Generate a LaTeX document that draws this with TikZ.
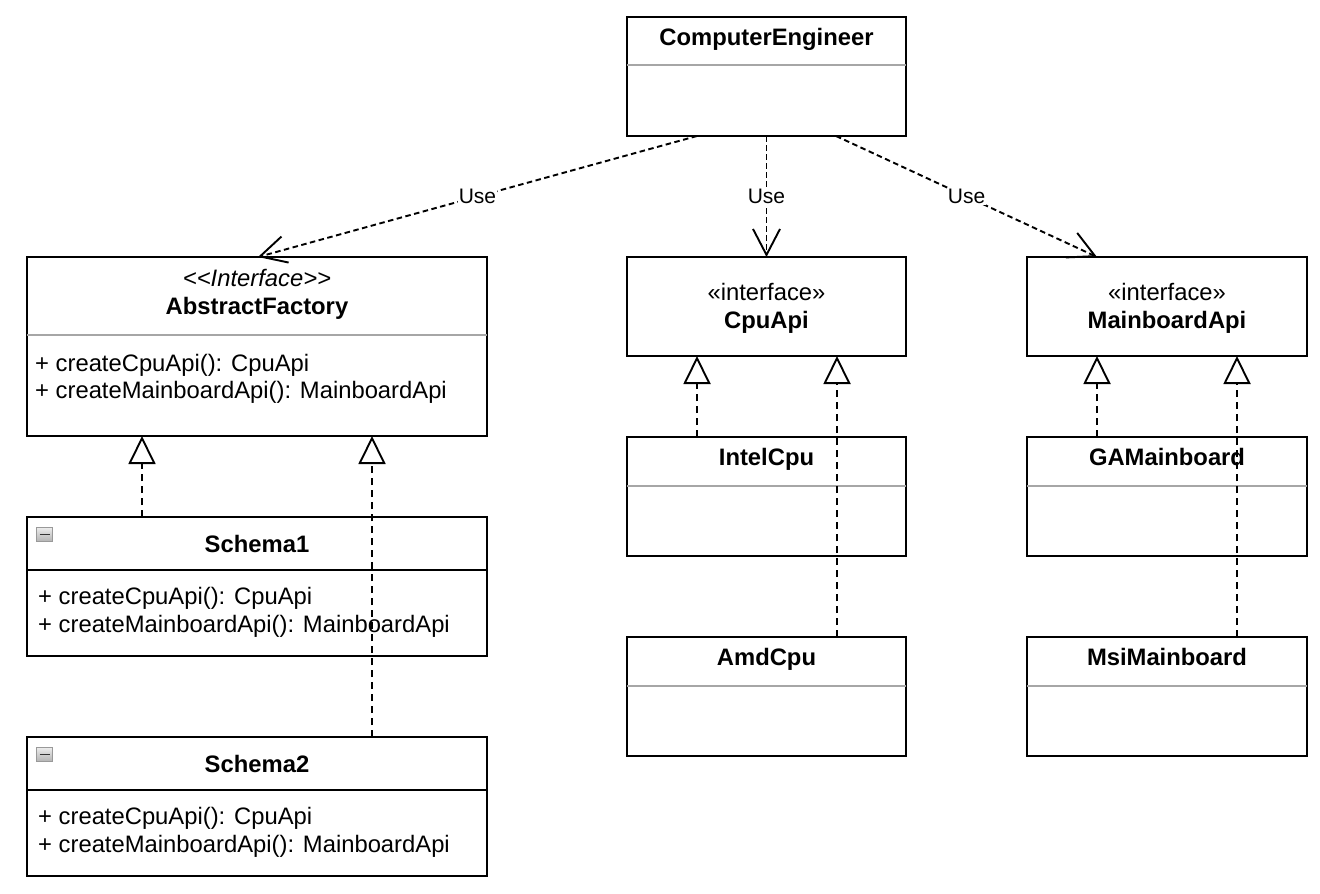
\documentclass[tikz,border=0pt]{standalone}
\usepackage{fontspec}
\setmainfont{Liberation Sans}
\usetikzlibrary{arrows.meta}

\tikzset{
  classbox/.style={draw, line width=2pt, fill=white, inner sep=0pt, outer sep=0pt, anchor=north west},
  classname/.style={font=\fontsize{23.8}{28}\selectfont\bfseries, anchor=base, inner sep=0pt},
  stereotype/.style={font=\fontsize{23.8}{28}\selectfont, anchor=base, inner sep=0pt},
  method/.style={font=\fontsize{23.8}{28}\selectfont, anchor=base west, inner sep=0pt},
  graysep/.style={draw=gray!70, line width=2pt},
  blacksep/.style={draw=black, line width=2pt},
  usedep/.style={line width=1.9pt, dash pattern=on 5.5pt off 3.5pt, -{Straight Barb[length=26pt, width=27pt]}},
  realize/.style={line width=1.9pt, dash pattern=on 7pt off 5pt, -{Triangle[open, length=28pt, width=27pt]}},
  uselabel/.style={font=\fontsize{21}{25}\selectfont, fill=white, inner sep=1pt},
  collapse/.style={draw=gray!80, line width=0.9pt, top color=gray!15, bottom color=gray!60, minimum width=16pt, minimum height=14pt, inner sep=0pt}
}

\begin{document}
\begin{tikzpicture}[x=1pt, y=-1pt]
  \useasboundingbox (0,0) rectangle (1320,894);

  % boxes
  \node[classbox, minimum width=279pt, minimum height=119pt] (ce) at (627,17) {};
  \node[classbox, minimum width=460pt, minimum height=179pt] (af) at (27,257) {};
  \node[classbox, minimum width=279pt, minimum height=99pt] (cpu) at (627,257) {};
  \node[classbox, minimum width=280pt, minimum height=99pt] (mb) at (1027,257) {};
  \node[classbox, minimum width=279pt, minimum height=119pt] (intel) at (627,437) {};
  \node[classbox, minimum width=279pt, minimum height=119pt] (amd) at (627,637) {};
  \node[classbox, minimum width=280pt, minimum height=119pt] (ga) at (1027,437) {};
  \node[classbox, minimum width=280pt, minimum height=119pt] (msi) at (1027,637) {};
  \node[classbox, minimum width=460pt, minimum height=139pt] (s1) at (27,517) {};
  \node[classbox, minimum width=460pt, minimum height=139pt] (s2) at (27,737) {};

  % compartments
  \draw[graysep] ([yshift=-48pt]ce.north west) -- ([yshift=-48pt]ce.north east);
  \draw[graysep] ([yshift=-78pt]af.north west) -- ([yshift=-78pt]af.north east);
  \draw[graysep] ([yshift=-49pt]intel.north west) -- ([yshift=-49pt]intel.north east);
  \draw[graysep] ([yshift=-49pt]amd.north west) -- ([yshift=-49pt]amd.north east);
  \draw[graysep] ([yshift=-49pt]ga.north west) -- ([yshift=-49pt]ga.north east);
  \draw[graysep] ([yshift=-49pt]msi.north west) -- ([yshift=-49pt]msi.north east);
  \draw[blacksep] ([yshift=-53pt]s1.north west) -- ([yshift=-53pt]s1.north east);
  \draw[blacksep] ([yshift=-53pt]s2.north west) -- ([yshift=-53pt]s2.north east);

  % texts
  \node[classname] (ce-name) at ([yshift=-28pt]ce.north) {ComputerEngineer};
  \node[stereotype, font=\fontsize{23.8}{28}\selectfont\itshape] (af-st) at ([yshift=-29pt]af.north) {{<}{<}Interface{>}{>}};
  \node[classname] (af-name) at ([yshift=-57pt]af.north) {AbstractFactory};
  \node[method] (af-m1) at ([xshift=8pt, yshift=-114pt]af.north west) {+ createCpuApi(): CpuApi};
  \node[method] (af-m2) at ([xshift=8pt, yshift=-141pt]af.north west) {+ createMainboardApi(): MainboardApi};
  \node[stereotype] (cpu-st) at ([yshift=-43pt]cpu.north) {«interface»};
  \node[classname] (cpu-name) at ([yshift=-71pt]cpu.north) {CpuApi};
  \node[stereotype] (mb-st) at ([yshift=-43pt]mb.north) {«interface»};
  \node[classname] (mb-name) at ([yshift=-71pt]mb.north) {MainboardApi};
  \node[classname] (intel-name) at ([yshift=-28pt]intel.north) {IntelCpu};
  \node[classname] (amd-name) at ([yshift=-28pt]amd.north) {AmdCpu};
  \node[classname] (ga-name) at ([yshift=-28pt]ga.north) {GAMainboard};
  \node[classname] (msi-name) at ([yshift=-28pt]msi.north) {MsiMainboard};
  \node[classname] (s1-name) at ([yshift=-35pt]s1.north) {Schema1};
  \node[method] (s1-m1) at ([xshift=11pt, yshift=-87pt]s1.north west) {+ createCpuApi(): CpuApi};
  \node[method] (s1-m2) at ([xshift=11pt, yshift=-115pt]s1.north west) {+ createMainboardApi(): MainboardApi};
  \node[classname] (s2-name) at ([yshift=-35pt]s2.north) {Schema2};
  \node[method] (s2-m1) at ([xshift=11pt, yshift=-87pt]s2.north west) {+ createCpuApi(): CpuApi};
  \node[method] (s2-m2) at ([xshift=11pt, yshift=-115pt]s2.north west) {+ createMainboardApi(): MainboardApi};

  % collapse icons
  \node[collapse] (s1-icon) at ([xshift=17.5pt, yshift=-17.5pt]s1.north west) {};
  \draw[line width=1.8pt, black!80] ([xshift=-5pt]s1-icon.center) -- ([xshift=5pt]s1-icon.center);
  \node[collapse] (s2-icon) at ([xshift=17.5pt, yshift=-17.5pt]s2.north west) {};
  \draw[line width=1.8pt, black!80] ([xshift=-5pt]s2-icon.center) -- ([xshift=5pt]s2-icon.center);

  % dependencies
  \draw[usedep] ([xshift=70pt]ce.south west) -- node[uselabel] {Use} ([xshift=231pt]af.north west);
  \draw[usedep] (ce.south) -- node[uselabel] {Use} (cpu.north);
  \draw[usedep] ([xshift=-70pt]ce.south east) -- node[uselabel] {Use} ([xshift=70pt]mb.north west);

  % realizations
  \draw[realize] ([xshift=115pt]s1.north west) -- ([xshift=115pt]af.south west);
  \draw[realize] ([xshift=345pt]s2.north west) -- ([xshift=345pt]af.south west);
  \draw[realize] ([xshift=70pt]intel.north west) -- ([xshift=70pt]cpu.south west);
  \draw[realize] ([xshift=210pt]amd.north west) -- ([xshift=210pt]cpu.south west);
  \draw[realize] ([xshift=70pt]ga.north west) -- ([xshift=70pt]mb.south west);
  \draw[realize] ([xshift=210pt]msi.north west) -- ([xshift=210pt]mb.south west);
\end{tikzpicture}
\end{document}
